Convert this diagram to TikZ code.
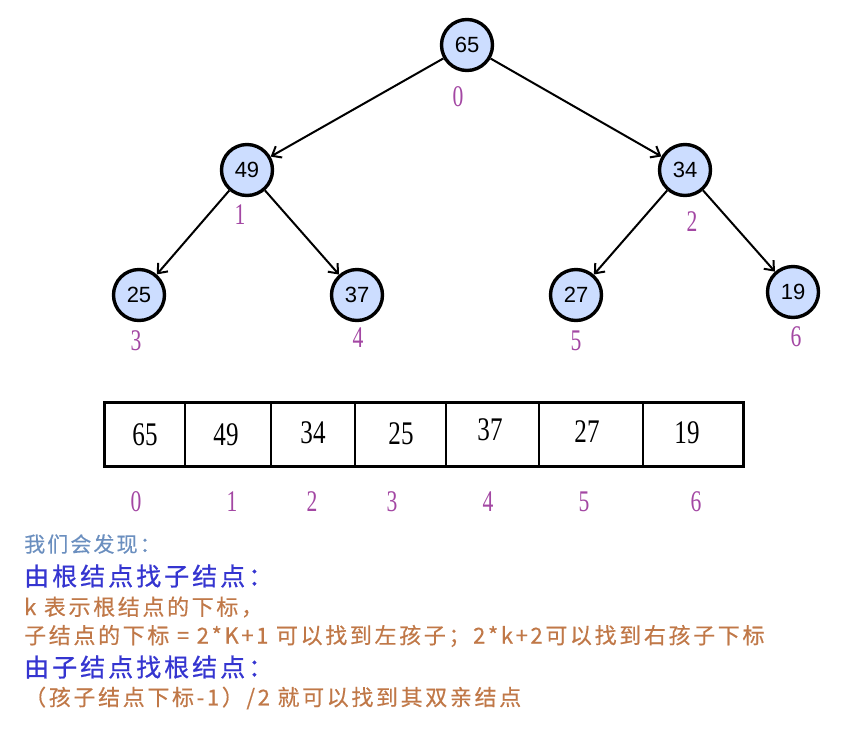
\documentclass[tikz,border=0pt]{standalone}
\usepackage{fontspec}
\setmainfont{Liberation Serif}
\setsansfont{Liberation Sans}
\newfontfamily\cjk[LetterSpace=12,FakeBold=0.4]{Noto Sans CJK SC}
\newfontfamily\cjkhead[LetterSpace=12,FakeBold=0.8]{Noto Sans CJK SC}
\newfontfamily\cjkintro[LetterSpace=10,FakeBold=0.4]{Noto Sans CJK SC}
\usetikzlibrary{arrows.meta}
\definecolor{nodefill}{HTML}{CCDDFF}
\definecolor{idxcol}{HTML}{A347A3}
\definecolor{introcol}{HTML}{6B8FBF}
\definecolor{headcol}{HTML}{3535D0}
\definecolor{bodycol}{HTML}{C07848}
\newcommand{\narrow}[1]{\scalebox{0.72}[1]{#1}}
\newcommand{\narrowval}[1]{\scalebox{0.76}[1]{#1}}
\tikzset{
  heapnode/.style={circle, draw=black, line width=3.4pt, fill=nodefill, minimum size=51pt, inner sep=0pt, font=\sffamily\fontsize{22}{22}\selectfont},
  idx/.style={text=idxcol, inner sep=0pt, font=\fontsize{30}{30}\selectfont},
  arrval/.style={inner sep=0pt, font=\fontsize{33}{33}\selectfont},
  edge/.style={line width=2pt, -{Straight Barb[length=8pt,width=13pt,line width=2pt]}},
  intro/.style={anchor=west, inner sep=0pt, text=introcol, font=\cjkintro\fontsize{21}{21}\selectfont},
  head/.style={anchor=west, inner sep=0pt, text=headcol, font=\cjkhead\fontsize{25}{25}\selectfont},
  body/.style={anchor=west, inner sep=0pt, text=bodycol, font=\cjk\fontsize{22}{22}\selectfont},
}
\begin{document}
\begin{tikzpicture}[x=1pt,y=-1pt]
\useasboundingbox (0,0) rectangle (862,729);
% tree nodes
\node[heapnode] (n0) at (467,45) {65};
\node[heapnode] (n1) at (247,170) {49};
\node[heapnode] (n2) at (685,170) {34};
\node[heapnode] (n3) at (139,295) {25};
\node[heapnode] (n4) at (357,295) {37};
\node[heapnode] (n5) at (576,295) {27};
\node[heapnode] (n6) at (793,292) {19};
\draw[edge] (n0) -- (n1);
\draw[edge] (n0) -- (n2);
\draw[edge] (n1) -- (n3);
\draw[edge] (n1) -- (n4);
\draw[edge] (n2) -- (n5);
\draw[edge] (n2) -- (n6);
% tree indices
\node[idx] (t0) at (458,97) {\narrow{0}};
\node[idx] (t1) at (240,215) {\narrow{1}};
\node[idx] (t2) at (692,222) {\narrow{2}};
\node[idx] (t3) at (136,341) {\narrow{3}};
\node[idx] (t4) at (358,338) {\narrow{4}};
\node[idx] (t5) at (576,341) {\narrow{5}};
\node[idx] (t6) at (796,337) {\narrow{6}};
% array
\coordinate (atl) at (104,402);
\coordinate (abr) at (743,466);
\draw[line width=3pt] (atl) rectangle (abr);
\foreach \x in {185,271,355,446,539,643}{
  \draw[line width=2pt] (\x,402) -- (\x,466);
}
\node[arrval] (a0) at (145,435) {\narrowval{65}};
\node[arrval] (a1) at (226,435) {\narrowval{49}};
\node[arrval] (a2) at (313,433) {\narrowval{34}};
\node[arrval] (a3) at (401,434) {\narrowval{25}};
\node[arrval] (a4) at (490,430) {\narrowval{37}};
\node[arrval] (a5) at (587,432) {\narrowval{27}};
\node[arrval] (a6) at (687,433) {\narrowval{19}};
\node[idx] (i0) at (136,502) {\narrow{0}};
\node[idx] (i1) at (232,502) {\narrow{1}};
\node[idx] (i2) at (312,502) {\narrow{2}};
\node[idx] (i3) at (392,502) {\narrow{3}};
\node[idx] (i4) at (488,502) {\narrow{4}};
\node[idx] (i5) at (584,502) {\narrow{5}};
\node[idx] (i6) at (696,502) {\narrow{6}};
% text
\node[intro] (l1) at (24,544) {我们会发现：};
\node[head] (l2) at (24,576) {由根结点找子结点：};
\node[body] (l3) at (24,607) {k 表示根结点的下标，};
\node[body] (l4) at (24,636) {子结点的下标 = 2*K+1 可以找到左孩子；2*k+2可以找到右孩子下标};
\node[head] (l5) at (24,667) {由子结点找根结点：};
\node[body] (l6) at (24,698) {（孩子结点下标-1）/2 就可以找到其双亲结点};
\end{tikzpicture}
\end{document}
